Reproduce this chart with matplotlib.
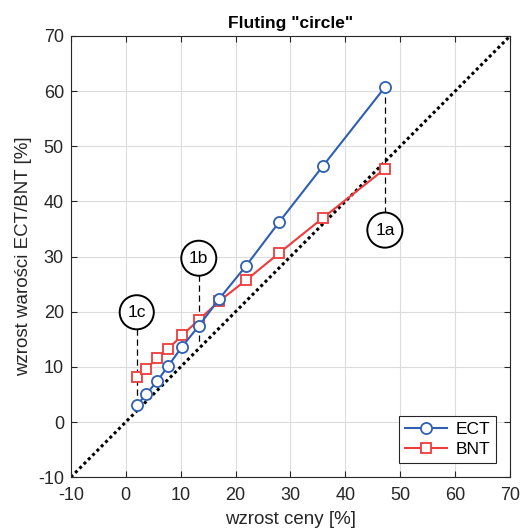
import matplotlib
matplotlib.use("Agg")
import matplotlib.pyplot as plt

plt.rcParams["font.family"] = ["Liberation Sans", "DejaVu Sans"]
plt.rcParams["axes.unicode_minus"] = False

# wzrost ceny [%]
cena = [2.0, 3.7, 5.7, 7.7, 10.2, 13.3, 17.0, 21.9, 27.9, 35.9, 47.2]
# wzrost wartości ECT / BNT [%]
ect = [3.0, 5.0, 7.4, 10.1, 13.6, 17.4, 22.3, 28.3, 36.2, 46.4, 60.7]
bnt = [8.1, 9.6, 11.6, 13.2, 15.7, 18.5, 21.9, 25.7, 30.6, 37.0, 45.9]

# etykiety punktów: (tekst, x, y kółka, początek i koniec linii przerywanej)
etykiety = [
    ("1a", 47.2, 34.8, 60.7, 38.0),
    ("1b", 13.3, 29.7, 26.7, 14.0),
    ("1c", 2.0, 19.9, 16.9, 4.5),
]

fig = plt.figure(figsize=(5.21, 5.29), dpi=100)
ax = fig.add_axes([0.136, 0.098, 0.843, 0.834])

ax.plot([-10, 70], [-10, 70], color="black", linestyle=(0, (1, 1)), linewidth=2.2, zorder=2)

for tekst, x, yc, y0, y1 in etykiety:
    ax.plot([x, x], [y0, y1], color="black", linestyle=(0, (5, 3)), linewidth=0.9, zorder=2)
    ax.text(x, yc, tekst, ha="center", va="center", fontsize=12.5, zorder=5,
            bbox=dict(boxstyle="circle,pad=0.45", facecolor="white", edgecolor="black", linewidth=1.4))

ax.plot(cena, ect, color="#2F5FB3", marker="o", markersize=8, markerfacecolor="white",
        markeredgewidth=1.3, linewidth=1.5, label="ECT", zorder=4)
ax.plot(cena, bnt, color="#EE3B3B", marker="s", markersize=7.5, markerfacecolor="white",
        markeredgewidth=1.3, linewidth=1.5, label="BNT", zorder=3)

ax.set_xlim(-10, 70)
ax.set_ylim(-10, 70)
ax.set_xticks(range(-10, 71, 10))
ax.set_yticks(range(-10, 71, 10))
ax.grid(True, color="#DCDCDC", linewidth=0.8)
ax.set_axisbelow(True)
ax.tick_params(direction="in", labelsize=13, colors="#262626", top=True, right=True, length=4)
ax.tick_params(axis="x", pad=7)
ax.tick_params(axis="y", pad=5)
for s in ax.spines.values():
    s.set_color("#262626")
    s.set_linewidth(0.8)

ax.set_xlabel("wzrost ceny [%]", fontsize=13.5, color="#262626", labelpad=5)
ax.set_ylabel("wzrost warości ECT/BNT [%]", fontsize=13.5, color="#262626", labelpad=4)
ax.set_title('Fluting "circle"', fontsize=12.5, fontweight="bold", pad=6)

leg = ax.legend(loc="lower right", fontsize=12.5, fancybox=False, framealpha=1,
                edgecolor="#262626", handlelength=2.4, handletextpad=0.5,
                borderaxespad=0.8, borderpad=0.35, labelspacing=0.3)
leg.get_frame().set_linewidth(0.8)

fig.savefig("out.png", dpi=100)
